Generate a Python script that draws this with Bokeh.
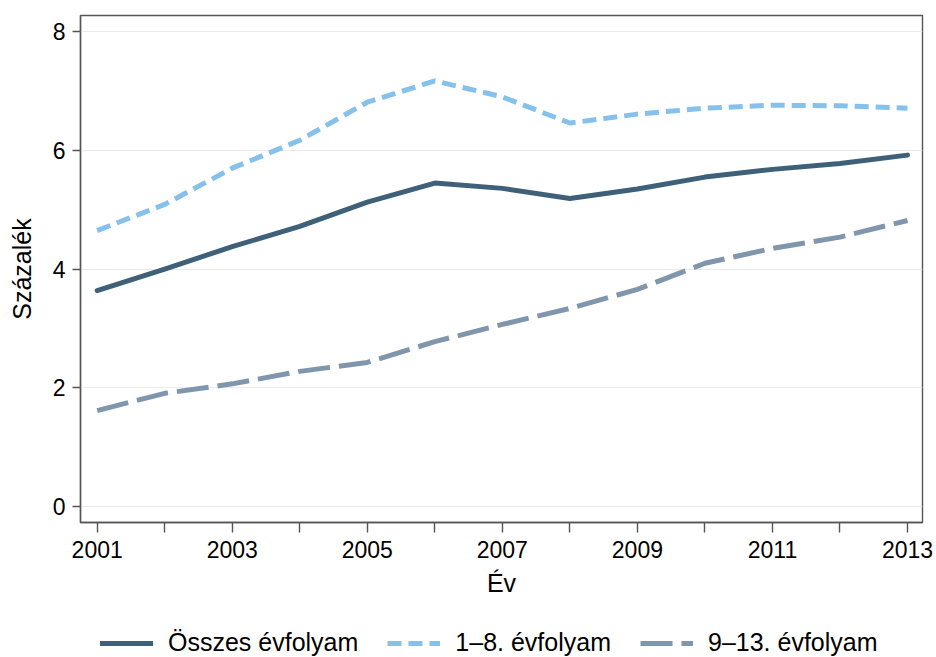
from bokeh.plotting import figure
from bokeh.models import Range1d, FixedTicker, Legend, LegendItem
from bokeh.layouts import column
from bokeh.embed import file_html
from bokeh.resources import INLINE

years = [2001, 2002, 2003, 2004, 2005, 2006, 2007, 2008, 2009, 2010, 2011, 2012, 2013]
osszes = [3.64, 4.00, 4.38, 4.72, 5.13, 5.45, 5.36, 5.19, 5.35, 5.55, 5.68, 5.78, 5.92]
ev_1_8 = [4.65, 5.09, 5.70, 6.17, 6.81, 7.17, 6.90, 6.46, 6.61, 6.71, 6.76, 6.75, 6.71]
ev_9_13 = [1.62, 1.91, 2.07, 2.28, 2.43, 2.78, 3.07, 3.34, 3.66, 4.10, 4.35, 4.54, 4.82]
y_ticks = [0, 2, 4, 6, 8]
x_label_years = [2001, 2003, 2005, 2007, 2009, 2011, 2013]
series_names = ["Összes évfolyam", "1–8. évfolyam", "9–13. évfolyam"]

FONT = "Liberation Sans"
COLORS = ["#3f6079", "#85c1ea", "#8096ad"]
DASHES = ["solid", "14 7", "32 9"]

p = figure(width=936, height=606, output_backend="svg", toolbar_location=None,
           x_range=Range1d(2000.753, 2013.222), y_range=Range1d(-0.264, 8.27),
           min_border_left=80, min_border_right=14, min_border_top=15, min_border_bottom=84,
           background_fill_color="white", border_fill_color="white")

p.outline_line_color = "#555555"
p.outline_line_width = 1.4

# grid
p.xgrid.grid_line_color = None
p.ygrid.grid_line_color = "#ebebeb"
p.ygrid.grid_line_width = 1
p.ygrid.ticker = FixedTicker(ticks=y_ticks)

# axes
p.xaxis.ticker = FixedTicker(ticks=years)
p.xaxis.major_label_overrides = {y: (str(y) if y in x_label_years else "") for y in years}
p.yaxis.ticker = FixedTicker(ticks=y_ticks)
for ax in (p.xaxis[0], p.yaxis[0]):
    ax.axis_line_color = "#555555"
    ax.axis_line_width = 1.4
    ax.major_tick_line_color = "#555555"
    ax.major_tick_line_width = 1.4
    ax.minor_tick_line_color = None
    ax.major_tick_in = 0
    ax.major_label_text_font = FONT
    ax.major_label_text_font_size = "23px"
    ax.major_label_text_color = "black"
    ax.axis_label_text_font = FONT
    ax.axis_label_text_font_size = "25px"
    ax.axis_label_text_font_style = "normal"
    ax.axis_label_text_color = "black"

p.xaxis.major_tick_out = 10
p.xaxis.major_label_standoff = 8
p.xaxis.axis_label = "Év"
p.xaxis.axis_label_standoff = 8

p.yaxis.major_tick_out = 8
p.yaxis.major_label_standoff = 7
p.yaxis.axis_label = "Százalék"
p.yaxis.axis_label_standoff = 14
p.yaxis.major_label_orientation = "horizontal"

series = [osszes, ev_1_8, ev_9_13]
for vals, col, dash in zip(series, COLORS, DASHES):
    p.line(years, vals, line_color=col, line_width=5, line_dash=dash,
           line_cap="round" if dash == "solid" else "butt", line_join="round")

# legend strip below the chart (its own lines lie outside its visible range)
p2 = figure(width=936, height=51, output_backend="svg", toolbar_location=None,
            x_axis_location=None, y_axis_location=None,
            x_range=Range1d(0, 1), y_range=Range1d(0, 1),
            min_border_left=0, min_border_right=0, min_border_top=0, min_border_bottom=0,
            background_fill_color="white", border_fill_color="white")
p2.outline_line_color = None
p2.grid.visible = False

items = []
for name, vals, col, dash in zip(series_names, series, COLORS, DASHES):
    r = p2.line(years, vals, line_color=col, line_width=5, line_dash=dash,
                line_cap="round" if dash == "solid" else "butt")
    items.append(LegendItem(label=name, renderers=[r]))

legend = Legend(items=items, orientation="horizontal", location=(20, 0),
                border_line_color=None, background_fill_alpha=0,
                padding=0, margin=0, spacing=29, label_standoff=15,
                glyph_width=53, glyph_height=20,
                label_text_font=FONT, label_text_font_size="25px", label_text_color="black")
p2.add_layout(legend, "center")

open("out.html", "w").write(file_html(column(p, p2, spacing=0), INLINE))
